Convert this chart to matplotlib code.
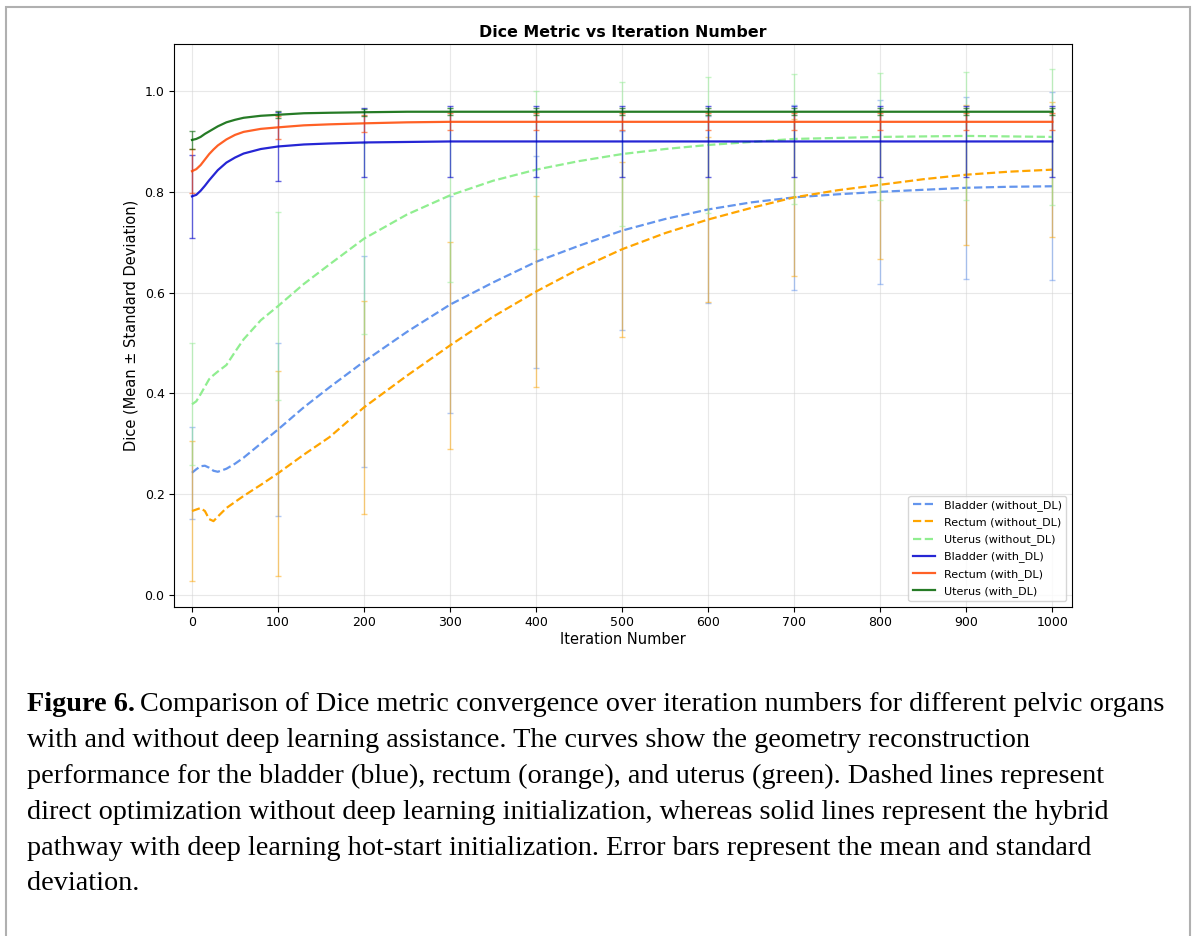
import matplotlib
matplotlib.use('Agg')
import matplotlib.pyplot as plt
from matplotlib.patches import Rectangle

# curve sample points
iters = [0, 5, 10, 15, 20, 25, 30, 40, 50, 60, 80, 100, 130, 160, 200, 250,
         300, 350, 400, 450, 500, 550, 600, 650, 700, 750, 800, 850, 900, 950, 1000]

bladder_wo = [0.242, 0.249, 0.255, 0.256, 0.252, 0.246, 0.244, 0.250, 0.260, 0.272, 0.300,
              0.328, 0.372, 0.412, 0.463, 0.522, 0.576, 0.620, 0.661, 0.693, 0.723, 0.746,
              0.765, 0.779, 0.789, 0.795, 0.800, 0.804, 0.808, 0.810, 0.811]
rectum_wo = [0.166, 0.169, 0.172, 0.166, 0.150, 0.146, 0.155, 0.172, 0.184, 0.196, 0.218,
             0.241, 0.278, 0.313, 0.372, 0.435, 0.495, 0.552, 0.602, 0.647, 0.686, 0.718,
             0.745, 0.768, 0.789, 0.803, 0.814, 0.825, 0.834, 0.840, 0.844]
uterus_wo = [0.378, 0.384, 0.398, 0.413, 0.428, 0.436, 0.443, 0.456, 0.482, 0.507, 0.545,
             0.573, 0.617, 0.656, 0.707, 0.755, 0.793, 0.822, 0.844, 0.861, 0.875, 0.885,
             0.893, 0.899, 0.905, 0.907, 0.909, 0.910, 0.911, 0.910, 0.909]
bladder_dl = [0.791, 0.794, 0.802, 0.812, 0.823, 0.833, 0.843, 0.858, 0.868, 0.876, 0.885,
              0.890, 0.894, 0.896, 0.898, 0.899, 0.900, 0.900, 0.900, 0.900, 0.900, 0.900,
              0.900, 0.900, 0.900, 0.900, 0.900, 0.900, 0.900, 0.900, 0.900]
rectum_dl = [0.841, 0.845, 0.853, 0.864, 0.875, 0.884, 0.892, 0.904, 0.913, 0.919, 0.925,
             0.928, 0.932, 0.934, 0.936, 0.938, 0.939, 0.939, 0.939, 0.939, 0.939, 0.939,
             0.939, 0.939, 0.939, 0.939, 0.939, 0.939, 0.939, 0.939, 0.939]
uterus_dl = [0.903, 0.905, 0.909, 0.915, 0.920, 0.925, 0.930, 0.938, 0.943, 0.947, 0.951,
             0.953, 0.956, 0.957, 0.958, 0.959, 0.959, 0.959, 0.959, 0.959, 0.959, 0.959,
             0.959, 0.959, 0.959, 0.959, 0.959, 0.959, 0.959, 0.959, 0.959]

# error bar points
err_iters = [0, 100, 200, 300, 400, 500, 600, 700, 800, 900, 1000]

bladder_wo_mean = [0.242, 0.328, 0.463, 0.576, 0.661, 0.723, 0.765, 0.789, 0.800, 0.808, 0.811]
bladder_wo_std = [0.091, 0.171, 0.210, 0.216, 0.210, 0.198, 0.185, 0.184, 0.183, 0.181, 0.187]
rectum_wo_mean = [0.166, 0.241, 0.372, 0.495, 0.602, 0.686, 0.745, 0.789, 0.814, 0.834, 0.844]
rectum_wo_std = [0.139, 0.204, 0.212, 0.205, 0.189, 0.174, 0.163, 0.156, 0.147, 0.139, 0.134]
uterus_wo_mean = [0.378, 0.573, 0.707, 0.793, 0.844, 0.875, 0.893, 0.905, 0.909, 0.911, 0.909]
uterus_wo_std = [0.121, 0.186, 0.189, 0.173, 0.157, 0.143, 0.135, 0.129, 0.126, 0.127, 0.135]
bladder_dl_mean = [0.791, 0.890, 0.898, 0.900, 0.900, 0.900, 0.900, 0.900, 0.900, 0.900, 0.900]
bladder_dl_std = [0.082, 0.068, 0.069, 0.070, 0.070, 0.070, 0.070, 0.070, 0.070, 0.070, 0.070]
rectum_dl_mean = [0.841, 0.928, 0.936, 0.939, 0.939, 0.939, 0.939, 0.939, 0.939, 0.939, 0.939]
rectum_dl_std = [0.044, 0.023, 0.017, 0.017, 0.017, 0.017, 0.017, 0.017, 0.017, 0.017, 0.017]
uterus_dl_mean = [0.903, 0.953, 0.958, 0.959, 0.959, 0.959, 0.959, 0.959, 0.959, 0.959, 0.959]
uterus_dl_std = [0.017, 0.007, 0.007, 0.007, 0.007, 0.007, 0.007, 0.007, 0.007, 0.007, 0.007]

caption_lines = [
    "with and without deep learning assistance. The curves show the geometry reconstruction",
    "performance for the bladder (blue), rectum (orange), and uterus (green). Dashed lines represent",
    "direct optimization without deep learning initialization, whereas solid lines represent the hybrid",
    "pathway with deep learning hot-start initialization. Error bars represent the mean and standard",
    "deviation.",
]

fig = plt.figure(figsize=(11.96, 9.36), dpi=100)
ax = fig.add_axes([0.1457, 0.3518, 0.7506, 0.6009])

series = [
    (bladder_wo, bladder_wo_mean, bladder_wo_std, 'cornflowerblue', '--', 'Bladder (without_DL)', 1.0, 0.5),
    (rectum_wo, rectum_wo_mean, rectum_wo_std, 'orange', '--', 'Rectum (without_DL)', 1.0, 0.5),
    (uterus_wo, uterus_wo_mean, uterus_wo_std, 'lightgreen', '--', 'Uterus (without_DL)', 1.0, 0.5),
    (bladder_dl, bladder_dl_mean, bladder_dl_std, 'mediumblue', '-', 'Bladder (with_DL)', 0.85, 0.6),
    (rectum_dl, rectum_dl_mean, rectum_dl_std, 'orangered', '-', 'Rectum (with_DL)', 0.85, 0.6),
    (uterus_dl, uterus_dl_mean, uterus_dl_std, 'darkgreen', '-', 'Uterus (with_DL)', 0.85, 0.6),
]

for curve, mean, std, c, ls, lab, a, ea in series:
    ax.errorbar(err_iters, mean, yerr=std, fmt='none', ecolor=c, elinewidth=1,
                capsize=2.5, alpha=ea)
    ax.plot(iters, curve, ls=ls, color=c, lw=1.6, alpha=a, label=lab)

ax.set_xlim(-20.6, 1022.8)
ax.set_ylim(-0.024, 1.093)
ax.set_xticks(range(0, 1001, 100))
ax.set_yticks([0.0, 0.2, 0.4, 0.6, 0.8, 1.0])
ax.tick_params(labelsize=9)
ax.grid(True, color='lightgray', alpha=0.5, lw=0.8)
ax.set_title('Dice Metric vs Iteration Number', fontsize=11.4, fontweight='bold', pad=5)
ax.set_xlabel('Iteration Number', fontsize=10.5, labelpad=2)
ax.set_ylabel('Dice (Mean \u00b1 Standard Deviation)', fontsize=10.5)
ax.legend(loc='lower right', fontsize=8, labelspacing=0.56)

# outer frame around figure + caption
fig.patches.append(Rectangle((6 / 1196, -0.01), 1184 / 1196, 1 - 7 / 936 + 0.01,
                             transform=fig.transFigure, fill=False,
                             edgecolor='#b0b0b0', lw=1.5))

# caption
x0 = 27 / 1196
base = 711
cap_size = 20.3
t = fig.text(x0, 1 - base / 936, 'Figure 6.', fontsize=cap_size, fontweight='bold',
             family='Liberation Serif', va='baseline')
fig.canvas.draw()
bb = t.get_window_extent()
fig.text(bb.x1 / 1196 + 0.004, 1 - base / 936,
         'Comparison of Dice metric convergence over iteration numbers for different pelvic organs',
         fontsize=cap_size, family='Liberation Serif', va='baseline')
for i, line in enumerate(caption_lines):
    fig.text(x0, 1 - (base + 35.9 * (i + 1)) / 936, line, fontsize=cap_size,
             family='Liberation Serif', va='baseline')

fig.savefig('out.png', dpi=100)
